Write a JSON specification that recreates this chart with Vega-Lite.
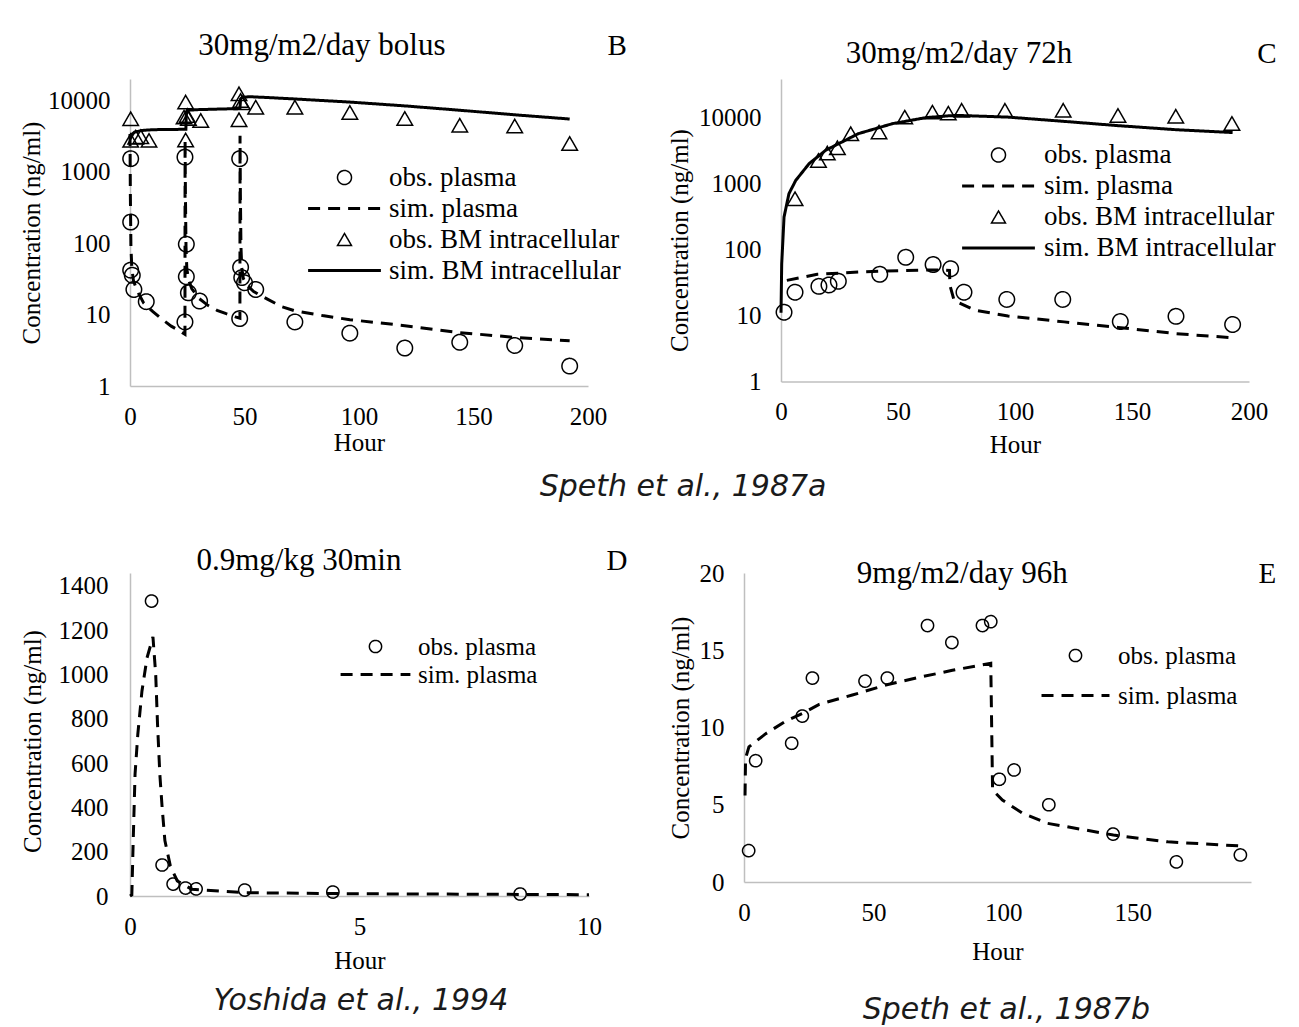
{
  "$schema": "https://vega.github.io/schema/vega-lite/v6.json",
  "background": "white",
  "padding": {"left": 19, "top": 29, "right": 5, "bottom": 0},
  "config": {
    "view": {"stroke": null},
    "font": "Liberation Serif",
    "axis": {"domainColor": "#bfbfbf", "domainWidth": 1.5, "ticks": false, "grid": false, "labelFlush": false, "labelOverlap": false, "labelFont": "Liberation Serif", "labelFontSize": 25, "labelColor": "black", "titleFont": "Liberation Serif", "titleFontSize": 25, "titleFontWeight": "normal", "titleColor": "black", "labelPadding": 20},
    "axisX": {"labelPadding": 18, "titlePadding": 6},
    "axisY": {"titlePadding": 3},
    "legend": {"labelFont": "Liberation Serif", "labelFontSize": 27, "labelColor": "black", "labelLimit": 0, "padding": 0, "symbolStrokeColor": "black", "symbolFillColor": "transparent", "symbolStrokeWidth": 1.5},
    "title": {"font": "Liberation Serif", "fontSize": 29, "fontWeight": "normal", "color": "black"}
  },
  "datasets": {
    "B": [
      {"s": "obs. plasma", "h": 0.3, "c": 1530}, {"s": "obs. plasma", "h": 0.3, "c": 198}, {"s": "obs. plasma", "h": 0.3, "c": 42}, {"s": "obs. plasma", "h": 1, "c": 35.6}, {"s": "obs. plasma", "h": 1.7, "c": 22.5}, {"s": "obs. plasma", "h": 7.1, "c": 15.2},
      {"s": "obs. plasma", "h": 24, "c": 1610}, {"s": "obs. plasma", "h": 24.6, "c": 97}, {"s": "obs. plasma", "h": 24.6, "c": 34}, {"s": "obs. plasma", "h": 25.5, "c": 20.2}, {"s": "obs. plasma", "h": 30.4, "c": 15.5}, {"s": "obs. plasma", "h": 24, "c": 7.9},
      {"s": "obs. plasma", "h": 47.9, "c": 1530}, {"s": "obs. plasma", "h": 48.3, "c": 46}, {"s": "obs. plasma", "h": 48.8, "c": 33}, {"s": "obs. plasma", "h": 50, "c": 28}, {"s": "obs. plasma", "h": 54.9, "c": 22.5}, {"s": "obs. plasma", "h": 47.9, "c": 8.8},
      {"s": "obs. plasma", "h": 72, "c": 7.9}, {"s": "obs. plasma", "h": 96, "c": 5.5}, {"s": "obs. plasma", "h": 120, "c": 3.4}, {"s": "obs. plasma", "h": 144, "c": 4.1}, {"s": "obs. plasma", "h": 168, "c": 3.7}, {"s": "obs. plasma", "h": 192, "c": 1.9},
      {"s": "obs. BM intracellular", "h": 0.3, "c": 5550}, {"s": "obs. BM intracellular", "h": 0.3, "c": 2760}, {"s": "obs. BM intracellular", "h": 2.5, "c": 3060}, {"s": "obs. BM intracellular", "h": 4.7, "c": 3100}, {"s": "obs. BM intracellular", "h": 8.3, "c": 2760},
      {"s": "obs. BM intracellular", "h": 24.3, "c": 9500}, {"s": "obs. BM intracellular", "h": 24.3, "c": 2800}, {"s": "obs. BM intracellular", "h": 23.6, "c": 5850}, {"s": "obs. BM intracellular", "h": 25, "c": 6160}, {"s": "obs. BM intracellular", "h": 25.5, "c": 5600}, {"s": "obs. BM intracellular", "h": 30.9, "c": 5250},
      {"s": "obs. BM intracellular", "h": 47.6, "c": 12400}, {"s": "obs. BM intracellular", "h": 48.3, "c": 10000}, {"s": "obs. BM intracellular", "h": 49, "c": 9300}, {"s": "obs. BM intracellular", "h": 47.6, "c": 5370}, {"s": "obs. BM intracellular", "h": 54.9, "c": 8060},
      {"s": "obs. BM intracellular", "h": 72, "c": 8060}, {"s": "obs. BM intracellular", "h": 96, "c": 6800}, {"s": "obs. BM intracellular", "h": 120, "c": 5600}, {"s": "obs. BM intracellular", "h": 144, "c": 4500}, {"s": "obs. BM intracellular", "h": 168, "c": 4400}, {"s": "obs. BM intracellular", "h": 192, "c": 2500},
      {"s": "sim. plasma", "h": 0, "c": 3400}, {"s": "sim. plasma", "h": 0.15, "c": 500}, {"s": "sim. plasma", "h": 0.4, "c": 90}, {"s": "sim. plasma", "h": 0.8, "c": 45}, {"s": "sim. plasma", "h": 1.5, "c": 30}, {"s": "sim. plasma", "h": 3, "c": 22}, {"s": "sim. plasma", "h": 6, "c": 14.5}, {"s": "sim. plasma", "h": 10, "c": 11}, {"s": "sim. plasma", "h": 14, "c": 8.6}, {"s": "sim. plasma", "h": 18, "c": 6.9}, {"s": "sim. plasma", "h": 22, "c": 5.8}, {"s": "sim. plasma", "h": 24, "c": 5.3},
      {"s": "sim. plasma", "h": 24.05, "c": 2800}, {"s": "sim. plasma", "h": 24.2, "c": 500}, {"s": "sim. plasma", "h": 24.45, "c": 90}, {"s": "sim. plasma", "h": 24.8, "c": 45}, {"s": "sim. plasma", "h": 25.5, "c": 31}, {"s": "sim. plasma", "h": 27, "c": 23}, {"s": "sim. plasma", "h": 30, "c": 17}, {"s": "sim. plasma", "h": 34, "c": 13.5}, {"s": "sim. plasma", "h": 38, "c": 11.5}, {"s": "sim. plasma", "h": 42, "c": 10.3}, {"s": "sim. plasma", "h": 46, "c": 9.3}, {"s": "sim. plasma", "h": 48, "c": 8.9},
      {"s": "sim. plasma", "h": 48.05, "c": 3200}, {"s": "sim. plasma", "h": 48.2, "c": 500}, {"s": "sim. plasma", "h": 48.45, "c": 90}, {"s": "sim. plasma", "h": 48.8, "c": 45}, {"s": "sim. plasma", "h": 49.5, "c": 32}, {"s": "sim. plasma", "h": 51, "c": 26}, {"s": "sim. plasma", "h": 54, "c": 21}, {"s": "sim. plasma", "h": 60, "c": 16.5}, {"s": "sim. plasma", "h": 66, "c": 13}, {"s": "sim. plasma", "h": 72, "c": 11.3}, {"s": "sim. plasma", "h": 84, "c": 9.7}, {"s": "sim. plasma", "h": 96, "c": 8.5}, {"s": "sim. plasma", "h": 120, "c": 7}, {"s": "sim. plasma", "h": 144, "c": 5.6}, {"s": "sim. plasma", "h": 168, "c": 4.8}, {"s": "sim. plasma", "h": 192, "c": 4.3},
      {"s": "sim. BM intracellular", "h": 0, "c": 2900}, {"s": "sim. BM intracellular", "h": 0.5, "c": 3300}, {"s": "sim. BM intracellular", "h": 2, "c": 3600}, {"s": "sim. BM intracellular", "h": 5, "c": 3800}, {"s": "sim. BM intracellular", "h": 10, "c": 3900}, {"s": "sim. BM intracellular", "h": 24.4, "c": 3950},
      {"s": "sim. BM intracellular", "h": 24.6, "c": 6800}, {"s": "sim. BM intracellular", "h": 25.5, "c": 7300}, {"s": "sim. BM intracellular", "h": 30, "c": 7450}, {"s": "sim. BM intracellular", "h": 40, "c": 7600}, {"s": "sim. BM intracellular", "h": 48, "c": 7700},
      {"s": "sim. BM intracellular", "h": 48.3, "c": 10500}, {"s": "sim. BM intracellular", "h": 49, "c": 11000}, {"s": "sim. BM intracellular", "h": 52, "c": 11300}, {"s": "sim. BM intracellular", "h": 60, "c": 11000}, {"s": "sim. BM intracellular", "h": 72, "c": 10500}, {"s": "sim. BM intracellular", "h": 96, "c": 9500}, {"s": "sim. BM intracellular", "h": 120, "c": 8400}, {"s": "sim. BM intracellular", "h": 144, "c": 7300}, {"s": "sim. BM intracellular", "h": 168, "c": 6300}, {"s": "sim. BM intracellular", "h": 192, "c": 5500}
    ],
    "C": [
      {"s": "obs. plasma", "h": 1.3, "c": 11.2}, {"s": "obs. plasma", "h": 6, "c": 22.5}, {"s": "obs. plasma", "h": 16.2, "c": 27.6}, {"s": "obs. plasma", "h": 20.5, "c": 29}, {"s": "obs. plasma", "h": 24.5, "c": 33}, {"s": "obs. plasma", "h": 42.2, "c": 42}, {"s": "obs. plasma", "h": 53.3, "c": 76}, {"s": "obs. plasma", "h": 65, "c": 59}, {"s": "obs. plasma", "h": 72.5, "c": 51}, {"s": "obs. plasma", "h": 78.2, "c": 22.5}, {"s": "obs. plasma", "h": 96.5, "c": 17.5}, {"s": "obs. plasma", "h": 120.4, "c": 17.5}, {"s": "obs. plasma", "h": 145, "c": 8.1}, {"s": "obs. plasma", "h": 168.8, "c": 9.7}, {"s": "obs. plasma", "h": 193, "c": 7.3},
      {"s": "obs. BM intracellular", "h": 6, "c": 587}, {"s": "obs. BM intracellular", "h": 16, "c": 2230}, {"s": "obs. BM intracellular", "h": 19.8, "c": 2880}, {"s": "obs. BM intracellular", "h": 24.1, "c": 3470}, {"s": "obs. BM intracellular", "h": 29.8, "c": 5660}, {"s": "obs. BM intracellular", "h": 41.9, "c": 5990}, {"s": "obs. BM intracellular", "h": 52.9, "c": 10100}, {"s": "obs. BM intracellular", "h": 64.7, "c": 12000}, {"s": "obs. BM intracellular", "h": 71.5, "c": 11600}, {"s": "obs. BM intracellular", "h": 77.2, "c": 12800}, {"s": "obs. BM intracellular", "h": 95.7, "c": 12800}, {"s": "obs. BM intracellular", "h": 120.6, "c": 12800}, {"s": "obs. BM intracellular", "h": 144, "c": 10700}, {"s": "obs. BM intracellular", "h": 168.7, "c": 10400}, {"s": "obs. BM intracellular", "h": 192.7, "c": 8100},
      {"s": "sim. plasma", "h": 2.5, "c": 34}, {"s": "sim. plasma", "h": 15.5, "c": 42}, {"s": "sim. plasma", "h": 33, "c": 45.5}, {"s": "sim. plasma", "h": 53, "c": 48}, {"s": "sim. plasma", "h": 67.5, "c": 49}, {"s": "sim. plasma", "h": 72, "c": 48}, {"s": "sim. plasma", "h": 72.2, "c": 28.6}, {"s": "sim. plasma", "h": 74, "c": 16.8}, {"s": "sim. plasma", "h": 83, "c": 12}, {"s": "sim. plasma", "h": 97, "c": 9.8}, {"s": "sim. plasma", "h": 121, "c": 8}, {"s": "sim. plasma", "h": 144, "c": 6.6}, {"s": "sim. plasma", "h": 169, "c": 5.3}, {"s": "sim. plasma", "h": 193, "c": 4.6},
      {"s": "sim. BM intracellular", "h": 0, "c": 11}, {"s": "sim. BM intracellular", "h": 0.3, "c": 60}, {"s": "sim. BM intracellular", "h": 1.3, "c": 310}, {"s": "sim. BM intracellular", "h": 3.4, "c": 700}, {"s": "sim. BM intracellular", "h": 6.3, "c": 1110}, {"s": "sim. BM intracellular", "h": 12, "c": 1990}, {"s": "sim. BM intracellular", "h": 19, "c": 3160}, {"s": "sim. BM intracellular", "h": 33, "c": 5660}, {"s": "sim. BM intracellular", "h": 47.6, "c": 8030}, {"s": "sim. BM intracellular", "h": 61.8, "c": 9900}, {"s": "sim. BM intracellular", "h": 72, "c": 10600}, {"s": "sim. BM intracellular", "h": 76, "c": 10700}, {"s": "sim. BM intracellular", "h": 97, "c": 10100}, {"s": "sim. BM intracellular", "h": 121, "c": 8700}, {"s": "sim. BM intracellular", "h": 144, "c": 7500}, {"s": "sim. BM intracellular", "h": 169, "c": 6500}, {"s": "sim. BM intracellular", "h": 193, "c": 5900}
    ],
    "D": [
      {"s": "obs. plasma", "h": 0.47, "c": 1332}, {"s": "obs. plasma", "h": 0.7, "c": 140}, {"s": "obs. plasma", "h": 0.94, "c": 54}, {"s": "obs. plasma", "h": 1.21, "c": 36}, {"s": "obs. plasma", "h": 1.44, "c": 32}, {"s": "obs. plasma", "h": 2.5, "c": 27}, {"s": "obs. plasma", "h": 4.42, "c": 18}, {"s": "obs. plasma", "h": 8.5, "c": 9},
      {"s": "sim. plasma", "h": 0, "c": 0}, {"s": "sim. plasma", "h": 0.04, "c": 5}, {"s": "sim. plasma", "h": 0.07, "c": 250}, {"s": "sim. plasma", "h": 0.11, "c": 550}, {"s": "sim. plasma", "h": 0.17, "c": 730}, {"s": "sim. plasma", "h": 0.26, "c": 925}, {"s": "sim. plasma", "h": 0.37, "c": 1075}, {"s": "sim. plasma", "h": 0.5, "c": 1170}, {"s": "sim. plasma", "h": 0.56, "c": 1000}, {"s": "sim. plasma", "h": 0.6, "c": 775}, {"s": "sim. plasma", "h": 0.65, "c": 550}, {"s": "sim. plasma", "h": 0.7, "c": 400}, {"s": "sim. plasma", "h": 0.76, "c": 250}, {"s": "sim. plasma", "h": 0.88, "c": 135}, {"s": "sim. plasma", "h": 1.03, "c": 68}, {"s": "sim. plasma", "h": 1.35, "c": 30}, {"s": "sim. plasma", "h": 2.5, "c": 15}, {"s": "sim. plasma", "h": 5, "c": 10}, {"s": "sim. plasma", "h": 10, "c": 6}
    ],
    "E": [
      {"s": "obs. plasma", "h": 1.8, "c": 2.03}, {"s": "obs. plasma", "h": 4.5, "c": 7.85}, {"s": "obs. plasma", "h": 18.4, "c": 8.98}, {"s": "obs. plasma", "h": 22.5, "c": 10.74}, {"s": "obs. plasma", "h": 26.4, "c": 13.2}, {"s": "obs. plasma", "h": 46.7, "c": 13.0}, {"s": "obs. plasma", "h": 55.3, "c": 13.2}, {"s": "obs. plasma", "h": 70.8, "c": 16.6}, {"s": "obs. plasma", "h": 80.2, "c": 15.5}, {"s": "obs. plasma", "h": 92, "c": 16.6}, {"s": "obs. plasma", "h": 95.2, "c": 16.85}, {"s": "obs. plasma", "h": 98.5, "c": 6.65}, {"s": "obs. plasma", "h": 104.2, "c": 7.25}, {"s": "obs. plasma", "h": 117.6, "c": 5.0}, {"s": "obs. plasma", "h": 142.4, "c": 3.1}, {"s": "obs. plasma", "h": 166.8, "c": 1.3}, {"s": "obs. plasma", "h": 191.5, "c": 1.75},
      {"s": "sim. plasma", "h": 0.4, "c": 5.6}, {"s": "sim. plasma", "h": 0.6, "c": 8.0}, {"s": "sim. plasma", "h": 1.9, "c": 8.75}, {"s": "sim. plasma", "h": 8.4, "c": 9.6}, {"s": "sim. plasma", "h": 16, "c": 10.4}, {"s": "sim. plasma", "h": 22.5, "c": 10.9}, {"s": "sim. plasma", "h": 29, "c": 11.5}, {"s": "sim. plasma", "h": 41.8, "c": 12.1}, {"s": "sim. plasma", "h": 54.7, "c": 12.75}, {"s": "sim. plasma", "h": 67.6, "c": 13.25}, {"s": "sim. plasma", "h": 80.4, "c": 13.7}, {"s": "sim. plasma", "h": 95.2, "c": 14.15}, {"s": "sim. plasma", "h": 95.9, "c": 5.95}, {"s": "sim. plasma", "h": 99.7, "c": 5.3}, {"s": "sim. plasma", "h": 107.5, "c": 4.45}, {"s": "sim. plasma", "h": 117, "c": 3.8}, {"s": "sim. plasma", "h": 131.5, "c": 3.37}, {"s": "sim. plasma", "h": 142.5, "c": 3.04}, {"s": "sim. plasma", "h": 163.5, "c": 2.6}, {"s": "sim. plasma", "h": 191.5, "c": 2.33}
    ]
  },
  "resolve": {"scale": {"shape": "independent", "strokeDash": "independent"}, "legend": {"shape": "independent", "strokeDash": "independent"}},
  "spacing": 42,
  "vconcat": [
    {
      "title": {"text": "Speth et al., 1987a", "orient": "bottom", "anchor": "middle", "frame": "bounds", "font": "DejaVu Sans", "fontStyle": "italic", "fontSize": 30, "color": "#1a1a1a", "dx": 35, "offset": 14},
      "resolve": {"scale": {"shape": "independent", "strokeDash": "independent"}, "legend": {"shape": "independent", "strokeDash": "independent"}},
      "spacing": 40,
      "hconcat": [
        {
          "width": 458, "height": 307,
          "layer": [
            {
              "data": {"name": "B"},
              "transform": [{"filter": "indexof(datum.s, 'sim') == 0"}],
              "mark": {"type": "line", "color": "black", "strokeWidth": 3},
              "encoding": {
                "x": {"field": "h", "type": "quantitative", "scale": {"domain": [0, 200], "nice": false}, "axis": {"title": "Hour", "values": [0, 50, 100, 150, 200], "titlePadding": 1}},
                "y": {"field": "c", "type": "quantitative", "scale": {"type": "log", "domain": [1, 20000], "nice": false}, "axis": {"title": "Concentration (ng/ml)", "values": [1, 10, 100, 1000, 10000], "format": "d"}},
                "strokeDash": {"field": "s", "type": "nominal", "scale": {"domain": ["obs. plasma", "sim. plasma", "obs. BM intracellular", "sim. BM intracellular"], "range": [[1, 0], [12, 8], [1, 0], [1, 0]]}}
              }
            },
            {
              "data": {"name": "B"},
              "transform": [{"filter": "indexof(datum.s, 'obs') == 0"}],
              "mark": {"type": "point", "filled": false, "color": "black", "strokeWidth": 1.5, "size": 240, "opacity": 1},
              "encoding": {
                "x": {"field": "h", "type": "quantitative"},
                "y": {"field": "c", "type": "quantitative"},
                "shape": {"field": "s", "type": "nominal", "scale": {"domain": ["obs. plasma", "sim. plasma", "obs. BM intracellular", "sim. BM intracellular"], "range": ["circle", "M-5.2,0H5.2M-5.2,0.1H5.2M-5.2,-0.1H5.2", "triangle-up", "M-5.2,0H5.2M-5.2,0.1H5.2M-5.2,-0.1H5.2"]},
                  "legend": {"title": null, "orient": "none", "legendX": 201, "legendY": 85, "symbolSize": 196, "labelOffset": 31, "rowPadding": 3}},
                "strokeDash": {"field": "s", "type": "nominal", "scale": {"domain": ["obs. plasma", "sim. plasma", "obs. BM intracellular", "sim. BM intracellular"], "range": [[1, 0], [12, 8], [1, 0], [1, 0]]},
                  "legend": {"title": null, "orient": "none", "legendX": 201, "legendY": 85, "symbolSize": 196, "labelOffset": 31, "rowPadding": 3}}
              }
            },
            {
              "data": {"values": [{"t": "30mg/m2/day bolus"}]},
              "mark": {"type": "text", "font": "Liberation Serif", "fontSize": 31, "align": "center", "baseline": "middle", "color": "black"},
              "encoding": {"x": {"datum": 83.8}, "y": {"datum": 58900}, "text": {"field": "t"}}
            },
            {
              "data": {"values": [{"t": "B"}]},
              "mark": {"type": "text", "font": "Liberation Serif", "fontSize": 29, "align": "center", "baseline": "middle", "color": "black"},
              "encoding": {"x": {"datum": 212.7}, "y": {"datum": 58900}, "text": {"field": "t"}}
            }
          ]
        },
        {
          "width": 468, "height": 302.5,
          "layer": [
            {
              "data": {"name": "C"},
              "transform": [{"filter": "indexof(datum.s, 'sim') == 0"}],
              "mark": {"type": "line", "color": "black", "strokeWidth": 3},
              "encoding": {
                "x": {"field": "h", "type": "quantitative", "scale": {"domain": [0, 200], "nice": false}, "axis": {"title": "Hour", "values": [0, 50, 100, 150, 200], "titlePadding": 8}},
                "y": {"field": "c", "type": "quantitative", "scale": {"type": "log", "domain": [1, 38140], "nice": false}, "axis": {"title": "Concentration (ng/ml)", "values": [1, 10, 100, 1000, 10000], "format": "d", "titlePadding": 6, "titleY": 161}},
                "strokeDash": {"field": "s", "type": "nominal", "scale": {"domain": ["obs. plasma", "sim. plasma", "obs. BM intracellular", "sim. BM intracellular"], "range": [[1, 0], [12, 8], [1, 0], [1, 0]]}}
              }
            },
            {
              "data": {"name": "C"},
              "transform": [{"filter": "indexof(datum.s, 'obs') == 0"}],
              "mark": {"type": "point", "filled": false, "color": "black", "strokeWidth": 1.5, "size": 240, "opacity": 1},
              "encoding": {
                "x": {"field": "h", "type": "quantitative"},
                "y": {"field": "c", "type": "quantitative"},
                "shape": {"field": "s", "type": "nominal", "scale": {"domain": ["obs. plasma", "sim. plasma", "obs. BM intracellular", "sim. BM intracellular"], "range": ["circle", "M-5.2,0H5.2M-5.2,0.1H5.2M-5.2,-0.1H5.2", "triangle-up", "M-5.2,0H5.2M-5.2,0.1H5.2M-5.2,-0.1H5.2"]},
                  "legend": {"title": null, "orient": "none", "legendX": 204, "legendY": 62.5, "symbolSize": 196, "labelOffset": 32, "rowPadding": 3}},
                "strokeDash": {"field": "s", "type": "nominal", "scale": {"domain": ["obs. plasma", "sim. plasma", "obs. BM intracellular", "sim. BM intracellular"], "range": [[1, 0], [12, 8], [1, 0], [1, 0]]},
                  "legend": {"title": null, "orient": "none", "legendX": 204, "legendY": 62.5, "symbolSize": 196, "labelOffset": 32, "rowPadding": 3}}
              }
            },
            {
              "data": {"values": [{"t": "30mg/m2/day 72h"}]},
              "mark": {"type": "text", "font": "Liberation Serif", "fontSize": 31, "align": "center", "baseline": "middle", "color": "black"},
              "encoding": {"x": {"datum": 76.1}, "y": {"datum": 90000}, "text": {"field": "t"}}
            },
            {
              "data": {"values": [{"t": "C"}]},
              "mark": {"type": "text", "font": "Liberation Serif", "fontSize": 29, "align": "center", "baseline": "middle", "color": "black"},
              "encoding": {"x": {"datum": 207.7}, "y": {"datum": 90000}, "text": {"field": "t"}}
            }
          ]
        }
      ]
    },
    {
      "resolve": {"scale": {"shape": "independent", "strokeDash": "independent"}, "legend": {"shape": "independent", "strokeDash": "independent"}},
      "spacing": 40,
      "hconcat": [
        {
          "width": 459, "height": 323,
          "layer": [
            {
              "data": {"name": "D"},
              "transform": [{"filter": "indexof(datum.s, 'sim') == 0"}],
              "mark": {"type": "line", "color": "black", "strokeWidth": 3},
              "encoding": {
                "x": {"field": "h", "type": "quantitative", "scale": {"domain": [0, 10], "nice": false}, "axis": {"title": "Hour", "values": [0, 5, 10], "titlePadding": 9}},
                "y": {"field": "c", "type": "quantitative", "scale": {"domain": [0, 1458.7], "nice": false}, "axis": {"title": "Concentration (ng/ml)", "values": [0, 200, 400, 600, 800, 1000, 1200, 1400], "format": "d", "titlePadding": 13, "labelPadding": 22, "titleY": 168}},
                "strokeDash": {"field": "s", "type": "nominal", "scale": {"domain": ["obs. plasma", "sim. plasma"], "range": [[1, 0], [12, 8]]}}
              }
            },
            {
              "data": {"name": "D"},
              "transform": [{"filter": "indexof(datum.s, 'obs') == 0"}],
              "mark": {"type": "point", "filled": false, "color": "black", "strokeWidth": 1.5, "size": 150, "opacity": 1},
              "encoding": {
                "x": {"field": "h", "type": "quantitative"},
                "y": {"field": "c", "type": "quantitative"},
                "shape": {"field": "s", "type": "nominal", "scale": {"domain": ["obs. plasma", "sim. plasma"], "range": ["circle", "M-5.7,0H5.7M-5.7,0.114H5.7M-5.7,-0.114H5.7"]},
                  "legend": {"title": null, "orient": "none", "legendX": 233, "legendY": 61, "symbolSize": 150, "labelOffset": 30, "rowPadding": 2, "labelFontSize": 25}},
                "strokeDash": {"field": "s", "type": "nominal", "scale": {"domain": ["obs. plasma", "sim. plasma"], "range": [[1, 0], [12, 8]]},
                  "legend": {"title": null, "orient": "none", "legendX": 233, "legendY": 61, "symbolSize": 150, "labelOffset": 30, "rowPadding": 2, "labelFontSize": 25}}
              }
            },
            {
              "data": {"values": [{"t": "0.9mg/kg 30min"}]},
              "mark": {"type": "text", "font": "Liberation Serif", "fontSize": 31, "align": "center", "baseline": "middle", "color": "black"},
              "encoding": {"x": {"datum": 3.68}, "y": {"datum": 1513}, "text": {"field": "t"}}
            },
            {
              "data": {"values": [{"t": "D"}]},
              "mark": {"type": "text", "font": "Liberation Serif", "fontSize": 29, "align": "center", "baseline": "middle", "color": "black"},
              "encoding": {"x": {"datum": 10.61}, "y": {"datum": 1513}, "text": {"field": "t"}}
            },
            {
              "data": {"values": [{"t": "Yoshida et al., 1994"}]},
              "mark": {"type": "text", "font": "DejaVu Sans", "fontStyle": "italic", "fontSize": 30, "align": "center", "baseline": "middle", "color": "#1a1a1a"},
              "encoding": {"x": {"datum": 5.03}, "y": {"datum": -474}, "text": {"field": "t"}}
            }
          ]
        },
        {
          "width": 507, "height": 309,
          "layer": [
            {
              "data": {"name": "E"},
              "transform": [{"filter": "indexof(datum.s, 'sim') == 0"}],
              "mark": {"type": "line", "color": "black", "strokeWidth": 3},
              "encoding": {
                "x": {"field": "h", "type": "quantitative", "scale": {"domain": [0, 195.6], "nice": false}, "axis": {"title": "Hour", "values": [0, 50, 100, 150], "titlePadding": 14}},
                "y": {"field": "c", "type": "quantitative", "scale": {"domain": [0, 20], "nice": false}, "axis": {"title": "Concentration (ng/ml)", "values": [0, 5, 10, 15, 20], "titlePadding": 6}},
                "strokeDash": {"field": "s", "type": "nominal", "scale": {"domain": ["obs. plasma", "sim. plasma"], "range": [[1, 0], [12, 8]]}}
              }
            },
            {
              "data": {"name": "E"},
              "transform": [{"filter": "indexof(datum.s, 'obs') == 0"}],
              "mark": {"type": "point", "filled": false, "color": "black", "strokeWidth": 1.5, "size": 150, "opacity": 1},
              "encoding": {
                "x": {"field": "h", "type": "quantitative"},
                "y": {"field": "c", "type": "quantitative"},
                "shape": {"field": "s", "type": "nominal", "scale": {"domain": ["obs. plasma", "sim. plasma"], "range": ["circle", "M-5.55,0H5.55M-5.55,0.114H5.55M-5.55,-0.114H5.55"]},
                  "legend": {"title": null, "orient": "none", "legendX": 319, "legendY": 70, "symbolSize": 150, "labelOffset": 30, "rowPadding": 14, "labelFontSize": 25}},
                "strokeDash": {"field": "s", "type": "nominal", "scale": {"domain": ["obs. plasma", "sim. plasma"], "range": [[1, 0], [12, 8]]},
                  "legend": {"title": null, "orient": "none", "legendX": 319, "legendY": 70, "symbolSize": 150, "labelOffset": 30, "rowPadding": 14, "labelFontSize": 25}}
              }
            },
            {
              "data": {"values": [{"t": "9mg/m2/day 96h"}]},
              "mark": {"type": "text", "font": "Liberation Serif", "fontSize": 31, "align": "center", "baseline": "middle", "color": "black"},
              "encoding": {"x": {"datum": 84.2}, "y": {"datum": 19.94}, "text": {"field": "t"}}
            },
            {
              "data": {"values": [{"t": "E"}]},
              "mark": {"type": "text", "font": "Liberation Serif", "fontSize": 29, "align": "center", "baseline": "middle", "color": "black"},
              "encoding": {"x": {"datum": 201.9}, "y": {"datum": 19.94}, "text": {"field": "t"}}
            },
            {
              "data": {"values": [{"t": "Speth et al., 1987b"}]},
              "mark": {"type": "text", "font": "DejaVu Sans", "fontStyle": "italic", "fontSize": 30, "align": "center", "baseline": "middle", "color": "#1a1a1a"},
              "encoding": {"x": {"datum": 101.2}, "y": {"datum": -8.28}, "text": {"field": "t"}}
            }
          ]
        }
      ]
    }
  ]
}
